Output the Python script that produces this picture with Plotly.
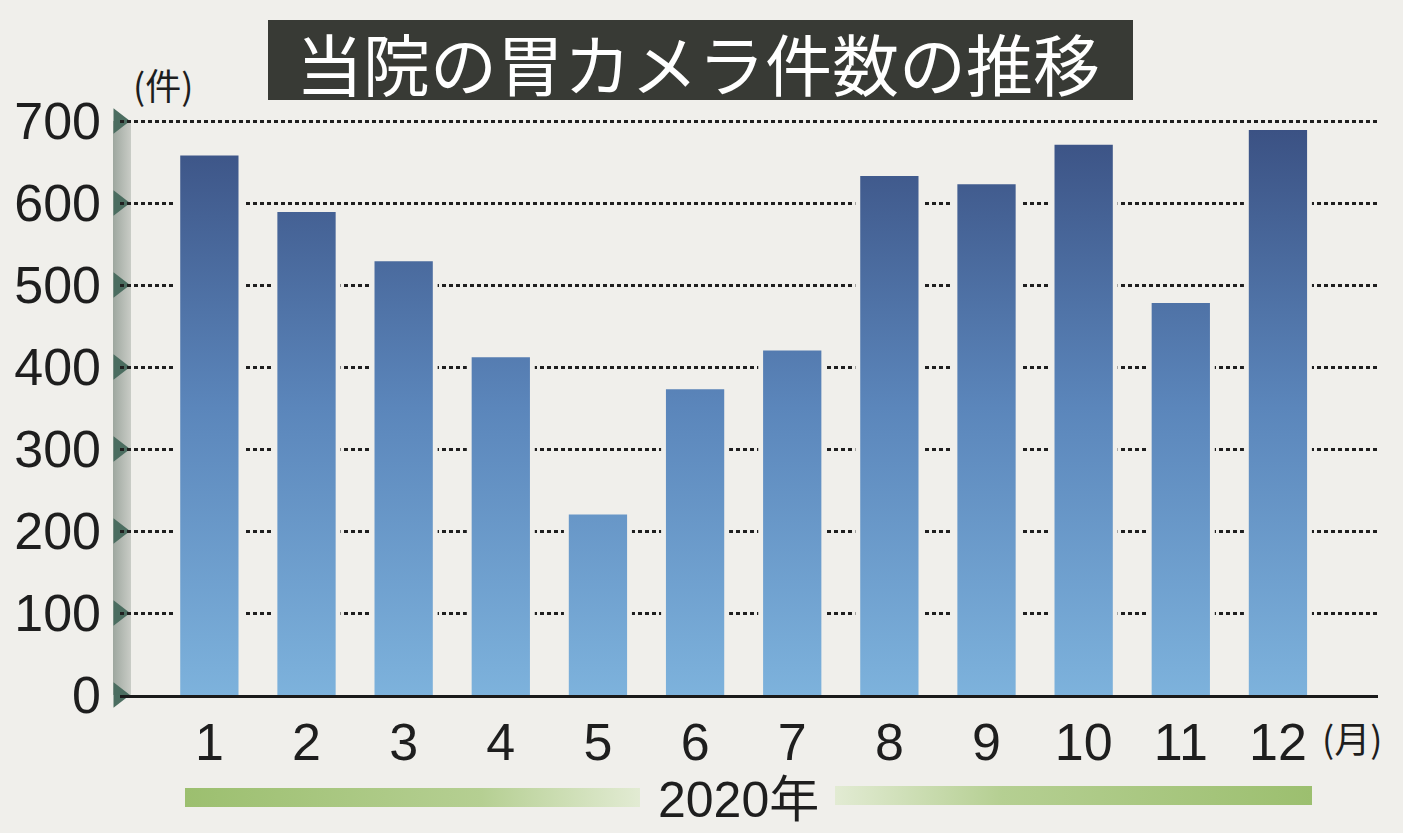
import plotly.graph_objects as go

# ---------------- data ----------------
months = [1, 2, 3, 4, 5, 6, 7, 8, 9, 10, 11, 12]
month_labels = ["1", "2", "3", "4", "5", "6", "7", "8", "9", "10", "11", "12"]
counts = [658, 589, 529, 412, 220, 373, 420, 633, 623, 671, 478, 689]
y_ticks = [0, 100, 200, 300, 400, 500, 600, 700]
title_text = "当院の胃カメラ件数の推移"
y_unit = "(件)"
x_unit = "(月)"
year_label = "2020年"

# ---------------- layout helpers ----------------
W, H = 1403, 833
BG = "#f0efeb"


def px(x):
    return x / W


def py(y):
    return 1 - y / H


plot_left, plot_right = 120, 1378
plot_bottom = 695
px_per_unit = 0.82
y_max = 702
plot_top = plot_bottom - y_max * px_per_unit

bar_w = 0.6
fig = go.Figure()

NOLINE = dict(width=0, color="rgba(0,0,0,0)")

# ---- decorative underlay in pixel coordinates (x/y) ----
fig.add_trace(go.Scatter(
    x=[113, 131, 131, 113, 113], y=[121, 121, 695, 695, 121],
    mode="lines", fill="toself", line=NOLINE,
    fillgradient=dict(type="horizontal",
                      colorscale=[[0, "#9ea79f"], [1, "#c9ccc6"]], start=113, stop=131),
    hoverinfo="skip", showlegend=False))
# tick triangles on the band (pixel position of each y tick)
fig.add_trace(go.Scatter(
    x=[119] * len(y_ticks), y=[plot_bottom - t * px_per_unit for t in y_ticks],
    mode="markers",
    marker=dict(symbol="triangle-right", size=22, color="#4b6d60",
                line=dict(width=0)),
    cliponaxis=False, hoverinfo="skip", showlegend=False))
fig.add_trace(go.Scatter(
    x=[185, 640, 640, 185, 185], y=[788, 788, 807, 807, 788],
    mode="lines", fill="toself", line=NOLINE,
    fillgradient=dict(type="horizontal",
                      colorscale=[[0, "#9cbf6f"], [0.65, "#b5cf92"], [1, "#e2ebd3"]],
                      start=185, stop=640),
    hoverinfo="skip", showlegend=False))
fig.add_trace(go.Scatter(
    x=[835, 1312, 1312, 835, 835], y=[786, 786, 805, 805, 786],
    mode="lines", fill="toself", line=NOLINE,
    fillgradient=dict(type="horizontal",
                      colorscale=[[0, "#e2ebd3"], [0.35, "#b5cf92"], [1, "#9cbf6f"]],
                      start=835, stop=1312),
    hoverinfo="skip", showlegend=False))

# ---- main chart on x2/y2 ----
# halo behind bars (breaks gridlines around bars)
fig.add_trace(go.Bar(x=months, y=[c + 2 for c in counts], width=bar_w + 0.1,
                     xaxis="x2", yaxis="y2",
                     marker=dict(color=BG, line=dict(width=0)),
                     hoverinfo="skip", showlegend=False))

for m, c in zip(months, counts):
    xs = [m - bar_w / 2, m + bar_w / 2, m + bar_w / 2, m - bar_w / 2, m - bar_w / 2]
    ys = [0, 0, c, c, 0]
    fig.add_trace(go.Scatter(
        x=xs, y=ys, xaxis="x2", yaxis="y2", mode="lines", fill="toself", line=NOLINE,
        fillgradient=dict(type="vertical",
                          colorscale=[[0, "#7db2dc"], [0.5, "#5b86bb"], [1, "#3a5082"]],
                          start=0, stop=700),
        hoverinfo="skip", showlegend=False))

TICK_FONT = dict(family="Liberation Sans, Arial, sans-serif", size=52, color="#1e1e1e")

fig.update_layout(
    width=W, height=H,
    margin=dict(l=0, r=0, t=0, b=0),
    paper_bgcolor=BG, plot_bgcolor="rgba(0,0,0,0)",
    showlegend=False, hovermode=False, barmode="overlay",
    xaxis=dict(domain=[0, 1], range=[0, W], visible=False, fixedrange=True),
    yaxis=dict(domain=[0, 1], range=[H, 0], visible=False, fixedrange=True),
    xaxis2=dict(
        domain=[px(plot_left), px(plot_right)], anchor="y2",
        range=[0.08, 13.03], tickmode="array", tickvals=months, ticktext=month_labels,
        showgrid=False, zeroline=False, showline=True, linecolor="#1a1a1a", linewidth=3,
        ticks="", tickfont=TICK_FONT, ticklabelstandoff=0, automargin=False,
        fixedrange=True,
    ),
    yaxis2=dict(
        domain=[py(plot_bottom), py(plot_top)], anchor="x2",
        range=[0, y_max], tickmode="array", tickvals=y_ticks,
        showgrid=True, gridcolor="#1f1f1f", gridwidth=2.6, griddash="4px,3px",
        zeroline=False, showline=False, ticks="", tickfont=TICK_FONT,
        ticklabelstandoff=18, automargin=False, fixedrange=True,
    ),
    shapes=[
        dict(type="rect", xref="paper", yref="paper",
             x0=px(268), x1=px(1133), y0=py(100), y1=py(20),
             fillcolor="#383a35", line=dict(width=0), layer="below"),
    ],
    annotations=[
        dict(text=title_text, xref="paper", yref="paper", x=px(698), y=py(61),
             xanchor="center", yanchor="middle", showarrow=False,
             font=dict(family="Noto Sans CJK JP", size=67, color="#ffffff")),
        dict(text=y_unit, xref="paper", yref="paper", x=px(163), y=py(84),
             xanchor="center", yanchor="middle", showarrow=False,
             font=dict(family="Noto Sans CJK JP", size=36, color="#1e1e1e")),
        dict(text=x_unit, xref="paper", yref="paper", x=px(1352), y=py(737),
             xanchor="center", yanchor="middle", showarrow=False,
             font=dict(family="Noto Sans CJK JP", size=36, color="#1e1e1e")),
        dict(text=year_label, xref="paper", yref="paper", x=px(739), y=py(800),
             xanchor="center", yanchor="middle", showarrow=False,
             font=dict(family="Liberation Sans, Noto Sans CJK JP", size=50, color="#1e1e1e")),
    ],
)

fig.write_html("out.html")
